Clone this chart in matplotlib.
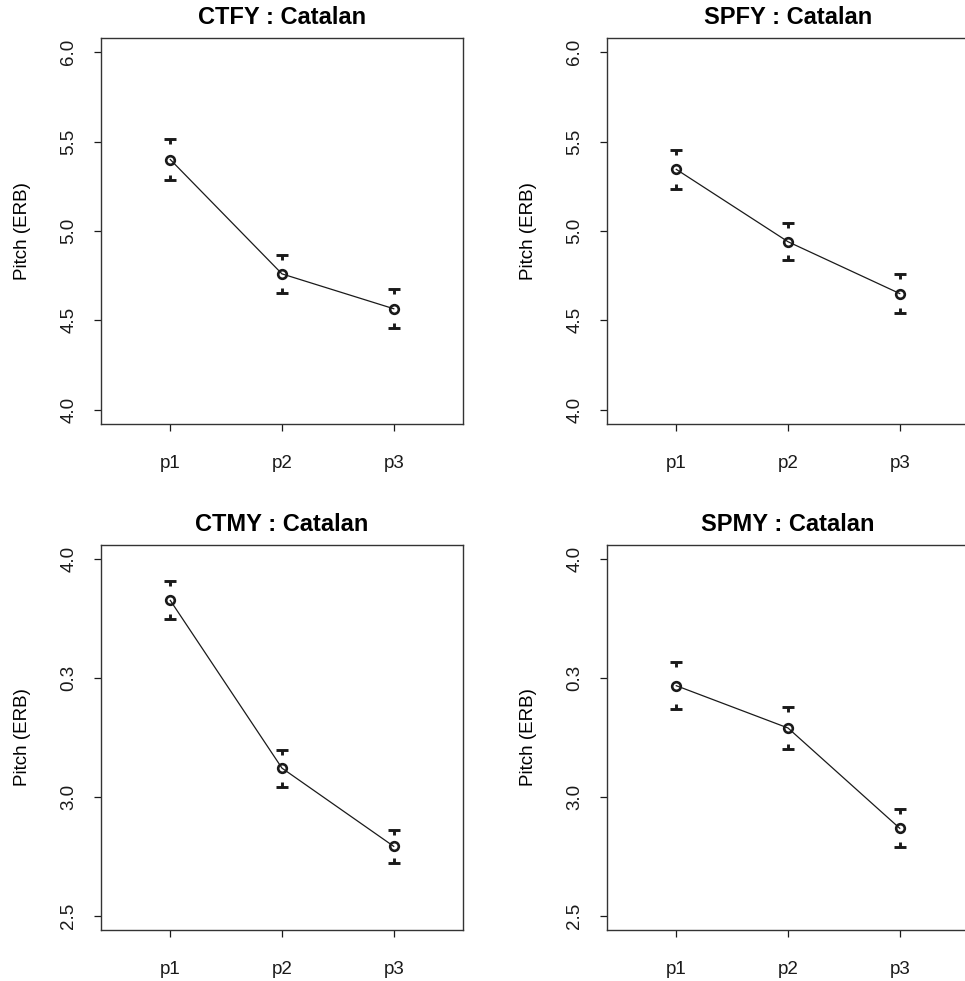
import matplotlib
matplotlib.use("Agg")
import matplotlib.pyplot as plt
from matplotlib.path import Path

plt.rcParams["font.family"] = ["Liberation Sans", "DejaVu Sans"]

positions = ["p1", "p2", "p3"]

ctfy_mean = [5.40, 4.76, 4.565]
ctfy_se = [0.115, 0.105, 0.11]
spfy_mean = [5.345, 4.94, 4.65]
spfy_se = [0.11, 0.105, 0.108]
ctmy_mean = [3.827, 3.121, 2.792]
ctmy_se = [0.08, 0.078, 0.07]
spmy_mean = [3.468, 3.29, 2.868]
spmy_se = [0.10, 0.09, 0.08]

female_ticks = [4.0, 4.5, 5.0, 5.5, 6.0]
female_ticklabels = ["4.0", "4.5", "5.0", "5.5", "6.0"]
male_ticks = [2.5, 3.0, 3.5, 4.0]
male_ticklabels = ["2.5", "3.0", "0.3", "4.0"]

panels = [
    ("CTFY : Catalan", ctfy_mean, ctfy_se, female_ticks, female_ticklabels),
    ("SPFY : Catalan", spfy_mean, spfy_se, female_ticks, female_ticklabels),
    ("CTMY : Catalan", ctmy_mean, ctmy_se, male_ticks, male_ticklabels),
    ("SPMY : Catalan", spmy_mean, spmy_se, male_ticks, male_ticklabels),
]

# T-shaped cap markers (cap at the marker centre, stub towards the mean)
cap_top = Path([(-1, 0), (1, 0), (0, 0), (0, -0.9)],
               [Path.MOVETO, Path.LINETO, Path.MOVETO, Path.LINETO])
cap_bot = Path([(-1, 0), (1, 0), (0, 0), (0, 0.9)],
               [Path.MOVETO, Path.LINETO, Path.MOVETO, Path.LINETO])

W, H = 965, 981
fig = plt.figure(figsize=(W / 100, H / 100), dpi=100)

# axes boxes in pixels: left, top, right, bottom
boxes = [(101, 38, 463, 424), (607, 38, 969, 424),
         (101, 545, 463, 930), (607, 545, 969, 930)]

col = "#1a1a1a"
for (title, mean, se, ticks, ticklabels), (x0, y0, x1, y1) in zip(panels, boxes):
    ax = fig.add_axes([x0 / W, 1 - y1 / H, (x1 - x0) / W, (y1 - y0) / H])
    x = [1, 2, 3]
    upper = [m + s for m, s in zip(mean, se)]
    lower = [m - s for m, s in zip(mean, se)]
    ax.plot(x, mean, color=col, lw=0.9)
    ax.plot(x, mean, "o", ms=6.2, mfc="none", mec=col, mew=1.9)
    ax.plot(x, upper, ls="none", marker=cap_top, ms=8.5, mec=col, mew=2.1)
    ax.plot(x, lower, ls="none", marker=cap_bot, ms=8.5, mec=col, mew=2.1)

    span = ticks[-1] - ticks[0]
    ax.set_ylim(ticks[0] - 0.04 * span, ticks[-1] + 0.04 * span)
    ax.set_xlim(0.38, 3.62)
    ax.set_xticks(x)
    ax.set_xticklabels(positions)
    ax.set_yticks(ticks)
    ax.set_yticklabels(ticklabels, rotation=90, va="center")
    ax.tick_params(direction="out", length=5, width=0.9, colors=col,
                   labelsize=13.5)
    ax.tick_params(axis="x", pad=17)
    ax.tick_params(axis="y", pad=12)
    for s in ax.spines.values():
        s.set_color("#333333")
        s.set_linewidth(1.0)
    ax.set_ylabel("Pitch (ERB)", fontsize=13.5, labelpad=21)
    ax.set_title(title, fontsize=17, fontweight="bold", pad=10)

fig.savefig("out.png", dpi=100)
